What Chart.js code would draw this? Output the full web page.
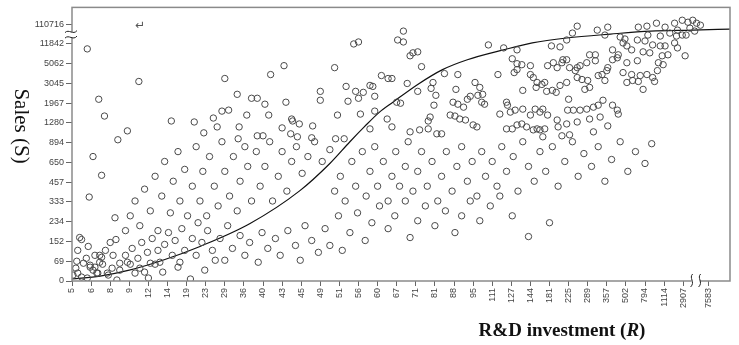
<!DOCTYPE html>
<html><head><meta charset="utf-8">
<script src="https://cdn.jsdelivr.net/npm/chart.js@4.4.1/dist/chart.umd.min.js"></script>
<style>html,body{margin:0;padding:0;background:#fff;}#wrap{width:739px;height:345px;position:relative;}</style>
</head><body><div id="wrap"><canvas id="c" width="739" height="345"></canvas></div>
<script>
// x axis: R&D investment (rank positions), y axis: Sales (rank positions)
const xTickLabels = ['5','6','8','9','12','14','19','23','29','36','40','43','45','49','51','56','60','67','71','81','88','95','111','127','144','181','225','289','357','502','794','1114','2907','7583'];
const xTickValues = [0,1,2,3,4,5,6,7,8,9,10,11,12,13,14,15,16,17,18,19,20,21,22,23,24,25,26,27,28,29,30,31,32,33.3];
const yTickLabels = ['0','69','152','234','333','457','650','894','1280','1967','3045','5062','11842','110716'];
const xMax = 34.45, yMax = 13.85;

// fitted curve (x rank, y rank)
const curveX = [0,1.47,3.0,4.75,6.7,9.3,11.9,13.5,14.55,15.3,16.1,16.8,18.1,19.4,20.7,22.6,24.1,25.9,28.2,30.3,32.5,34.45];
const curveY = [0.1,0.25,0.55,1.05,1.75,2.9,4.55,5.95,7.05,7.8,8.55,9.05,9.95,10.7,11.2,11.7,12.05,12.3,12.5,12.65,12.7,12.75];

// observations [x rank, y rank]
const observations = [
[0.8,11.75],[1.4,9.2],[1.7,8.35],[2.4,7.15],[2.9,7.6],[3.5,10.1],[5.2,8.1],[6.4,8.05],[6.9,7.5],[7.4,8.25],[7.6,7.8],[7.85,8.6],[8.2,8.65],[8.0,10.25],[8.65,9.45],[8.75,7.8],[8.7,7.2],[9.15,8.4],[9.4,9.25],[9.7,9.25],[9.7,7.35],[10.0,7.35],[10.1,8.95],[10.3,8.4],[10.4,10.45],[11.1,10.9],[11.2,9.05],[11.0,7.75],[11.5,8.2],[11.55,8.1],[11.9,7.95],[11.45,7.45],[11.8,7.3],[12.6,7.85],[12.55,7.25],[13.0,9.6],[13.0,9.15],[13.75,10.8],[13.9,8.4],[14.35,9.85],[14.45,9.1],[13.8,7.2],[14.25,7.2],[14.75,12.0],[15.0,12.1],[14.85,9.6],[15.0,9.25],[15.1,8.45],
[17.35,12.65],[17.05,12.2],[17.35,12.1],[17.7,11.4],[17.85,11.55],[18.1,11.6],[18.3,10.85],[15.25,9.55],[15.6,9.9],[15.75,9.85],[15.85,9.35],[16.2,10.4],[16.55,10.25],[16.75,10.25],[17.55,10.0],[18.1,9.6],[18.9,10.05],[18.8,9.75],[19.5,10.5],[20.2,10.45],[21.1,10.05],[21.35,9.8],[20.1,9.7],[19.05,9.4],[17.0,9.05],[17.2,9.0],[15.85,8.6],[16.5,8.2],[16.75,7.8],[15.6,7.7],[18.75,8.3],[18.65,8.1],[18.95,8.9],[19.95,9.05],[20.2,8.95],[20.7,9.2],[20.85,9.35],[21.25,9.4],[21.5,9.45],[21.45,9.05],[21.6,8.95],[19.8,8.4],[20.05,8.35],[20.3,8.2],[20.6,8.15],[20.5,8.8],[21.0,7.9],[21.2,7.8],[18.2,7.65],[18.65,7.7],[19.1,7.45],[19.35,7.45],[17.7,7.55],
[21.8,11.95],[22.6,11.8],[23.3,11.7],[26.45,12.9],[26.2,12.55],[25.9,12.2],[25.1,11.9],[25.55,11.85],[27.5,12.7],[28.05,12.85],[27.9,12.45],[28.7,12.35],[28.95,12.25],[29.65,12.85],[30.1,12.9],[30.6,13.05],[30.15,12.45],[31.55,13.05],[31.95,13.2],[32.25,13.1],[32.5,13.2],[32.7,13.05],[32.1,11.4],[32.35,12.8],[32.6,12.65],[32.9,12.95],[32.15,12.45],[31.7,12.7],[31.3,12.55],[31.05,12.85],[30.8,12.4],
[23.05,11.25],[23.3,11.0],[23.55,10.95],[24.0,10.9],[22.3,10.45],[23.15,10.55],[23.3,10.7],[24.0,10.45],[24.15,10.3],[24.35,10.05],[24.6,9.95],[24.75,10.05],[23.6,9.65],[24.3,9.8],[24.85,9.6],[25.15,9.65],[25.35,9.55],[25.55,9.9],[25.9,10.05],[24.9,10.9],[25.2,11.05],[25.4,10.8],[25.65,11.05],[25.7,11.2],[25.9,11.2],[26.05,10.8],[26.35,10.65],[26.45,10.8],[26.6,10.9],[26.95,11.05],[27.1,11.45],[27.4,11.45],[27.4,11.15],[26.45,10.3],[26.7,10.2],[27.0,10.15],[26.85,9.7],[27.1,9.8],[27.55,10.4],[27.75,10.45],[27.9,10.15],[28.0,10.65],[28.05,10.8],[28.3,11.2],[28.55,11.3],[29.05,10.05],[29.35,10.15],[29.65,10.1],[28.85,10.55],[29.3,10.45],[29.05,11.05],[29.6,11.15],[29.75,10.4],[30.1,10.45],[30.4,10.3],[29.9,9.7],[30.5,10.1],[29.9,11.6],[30.25,11.55],[30.9,11.4],[31.2,11.45],[30.7,11.05],[30.95,10.95],[30.65,10.65],[31.55,12.05],[31.7,11.8],[31.65,12.4],[31.95,12.45],[30.4,11.95],[30.8,11.9],[31.05,11.9],[29.6,12.2],[30.0,12.15],[29.3,11.7],[28.85,12.05],[29.05,11.9],[28.6,11.45],[28.3,11.7],
[22.75,9.05],[22.8,8.9],[22.4,8.45],[22.95,8.55],[23.2,8.65],[23.6,8.7],[24.0,8.4],[24.25,8.7],[24.5,8.55],[24.65,8.7],[24.9,8.4],[24.75,7.7],[24.5,7.65],[25.4,8.15],[25.95,8.65],[26.25,8.65],[26.6,8.65],[26.95,8.7],[27.1,8.2],[27.3,8.8],[27.55,8.9],[27.65,8.3],[27.8,9.15],[28.3,8.9],[28.55,8.65],[28.6,8.45],[28.05,7.85],[27.3,7.55],[26.45,8.05],[23.3,7.9],[23.55,7.95],[23.8,7.8],[23.05,7.7],[22.75,7.7],[24.15,7.65],[24.35,7.7],[24.65,7.3],[25.65,7.35],[26.05,7.4],[25.9,7.95],[25.45,7.8],[26.0,9.2],
[0.4,2.2],[0.5,2.1],[0.3,1.55],[0.85,1.75],[0.25,1.0],[1.1,6.3],[1.55,5.35],[0.9,4.25],[2.35,0.05],[2.25,3.2],[2.0,1.95],[2.3,2.1],[1.45,1.3],[1.55,1.2],[2.15,1.3],[1.45,0.95],[1.6,0.85],[0.95,0.7],[1.1,0.55],[1.3,0.4],[0.05,0.3],[0.3,0.4],[0.5,0.2],[0.8,0.15],[0.95,0.8],[1.2,0.7],[1.35,0.4],[1.85,0.4],[1.9,0.3],[2.1,0.65],[2.5,0.9],[2.9,0.95],[3.3,0.4],[3.8,0.45],[4.1,0.9],[4.35,0.85],[4.0,0.15],[4.75,0.45],[5.55,0.7],[6.2,0.1],[7.5,1.05],
[0.2,0.65],[0.6,0.9],[0.75,1.15],[1.2,1.3],[1.75,1.55],[2.5,0.55],[2.8,1.3],[3.05,0.85],[3.15,1.65],[3.45,1.15],[3.55,0.65],[3.65,1.95],[3.95,1.45],[4.2,2.15],[4.5,1.55],[4.6,0.95],[4.85,1.85],[5.05,2.45],[5.25,1.3],[5.4,2.05],[5.65,0.95],[5.75,2.65],[5.9,1.55],[6.3,2.15],[6.5,1.3],[6.6,2.95],[6.8,1.95],[6.95,0.55],[7.1,2.55],[7.35,1.55],[7.75,2.15],[8.0,1.05],[8.15,2.8],[8.4,1.65],[8.8,2.3],[9.05,1.3],[9.3,1.95],[9.75,0.95],[9.95,2.45],[10.25,1.65],[10.65,2.15],[10.9,1.3],[11.3,2.55],[11.7,1.8],[11.95,1.05],[12.2,2.8],[12.55,2.05],[12.9,1.45],[13.25,2.65],[13.5,1.8],[13.95,3.3],[14.15,1.55],[14.55,2.45],[14.95,3.45],[15.35,2.05],[15.7,2.95],[16.1,3.8],[16.55,2.65],[16.9,3.3],[17.45,4.05],[17.7,2.2],[18.1,3.05],[18.5,3.8],[19.0,2.8],[19.55,3.55],[20.05,2.45],[20.4,3.3],[20.85,4.05],[21.35,3.05],[21.9,3.8],[22.4,4.3],[23.05,3.3],[23.9,2.25],[25.0,2.95],
[2.8,2.55],[3.05,3.3],[3.3,4.05],[3.55,2.8],[3.8,4.65],[4.1,3.55],[4.35,5.3],[4.5,2.55],[4.7,4.3],[4.85,6.05],[5.15,3.45],[5.3,5.05],[5.55,6.55],[5.65,4.05],[5.9,5.65],[6.05,3.3],[6.3,4.8],[6.5,6.8],[6.7,4.05],[6.85,5.55],[7.05,3.3],[7.2,6.3],[7.45,4.8],[7.65,3.8],[7.85,7.05],[8.0,5.55],[8.25,4.3],[8.45,6.3],[8.65,3.55],[8.8,5.05],[9.05,6.8],[9.2,5.8],[9.4,4.05],[9.65,6.55],[9.85,4.8],[10.1,5.8],[10.35,7.05],[10.5,4.05],[10.8,5.3],[11.0,6.55],[11.25,4.55],[11.5,6.05],[11.75,6.8],[12.05,5.45],[12.35,6.3],[12.7,7.05],[13.1,6.05],[13.5,6.65],
[13.75,4.55],[14.05,5.3],[14.3,4.05],[14.65,6.05],[14.85,4.8],[15.2,6.55],[15.4,4.3],[15.6,5.55],[15.85,6.8],[16.0,4.8],[16.3,6.05],[16.55,4.05],[16.75,5.3],[16.95,6.55],[17.15,4.8],[17.45,5.8],[17.6,7.05],[17.85,4.55],[18.1,5.55],[18.3,6.55],[18.6,4.8],[18.85,6.05],[19.15,4.05],[19.35,5.3],[19.6,6.55],[19.9,4.55],[20.15,5.8],[20.4,6.8],[20.7,5.05],[20.95,6.05],[21.2,4.3],[21.45,6.55],[21.65,5.3],[22.0,6.05],[22.25,4.8],[22.5,6.8],[22.75,5.55],[23.1,6.3],[23.35,4.55],[23.6,7.05],[23.9,5.8],[24.2,5.05],[24.5,6.55],[24.8,5.55],[25.15,6.8],[25.45,4.8],[25.8,6.05],[26.2,7.05],[26.5,5.3],[26.8,6.45],[27.2,5.8],[27.55,6.8],[27.9,5.05],[28.25,6.15],[28.7,7.05],[29.1,5.55],[29.5,6.55],[30.0,5.95],[30.35,6.95]
];

const framePlugin = {
  id: 'frame',
  afterDraw(chart) {
    const {ctx, chartArea: a, scales} = chart;
    ctx.save();
    ctx.strokeStyle = '#8a8a8a';
    ctx.lineWidth = 1.5;
    ctx.strokeRect(a.left, a.top, a.right - a.left, a.bottom - a.top);
    // y-axis break
    const yb = scales.y.getPixelForValue(12.5);
    ctx.fillStyle = '#fff';
    ctx.fillRect(a.left - 2, yb - 2, 4, 5);
    ctx.strokeStyle = '#222';
    ctx.lineWidth = 1;
    for (const dy of [-2.5, 3]) {
      ctx.beginPath();
      ctx.moveTo(a.left - 7, yb + dy + 1);
      ctx.bezierCurveTo(a.left - 3, yb + dy - 3, a.left + 1, yb + dy + 4, a.left + 5, yb + dy - 1);
      ctx.stroke();
    }
    // x-axis break
    const xb = scales.x.getPixelForValue((xTickValues[32] + xTickValues[33]) / 2);
    ctx.fillStyle = '#fff';
    ctx.fillRect(xb - 4, a.bottom - 2, 8, 4);
    for (const dx of [-4, 4]) {
      ctx.beginPath();
      ctx.moveTo(xb + dx + 1, a.bottom - 7);
      ctx.bezierCurveTo(xb + dx - 3, a.bottom - 3, xb + dx + 4, a.bottom + 1, xb + dx - 1, a.bottom + 6);
      ctx.stroke();
    }
    // axis titles
    ctx.fillStyle = '#111';
    ctx.save();
    ctx.translate(21, 126);
    ctx.rotate(Math.PI / 2);
    ctx.font = '21px "Liberation Serif", "Times New Roman", serif';
    ctx.textAlign = 'center';
    ctx.textBaseline = 'middle';
    ctx.fillText('Sales (S)', 0, 0);
    ctx.restore();
    const p1 = 'R&D investment (', p2 = 'R', p3 = ')';
    const fb = 'bold 19px "Liberation Serif", "Times New Roman", serif';
    const fi = 'bold italic 19px "Liberation Serif", "Times New Roman", serif';
    ctx.font = fb; const w1 = ctx.measureText(p1).width, w3 = ctx.measureText(p3).width;
    ctx.font = fi; const w2 = ctx.measureText(p2).width;
    let x0 = 562 - (w1 + w2 + w3) / 2;
    const yT = 336;
    ctx.textAlign = 'left'; ctx.textBaseline = 'alphabetic';
    ctx.font = fb; ctx.fillText(p1, x0, yT);
    ctx.font = fi; ctx.fillText(p2, x0 + w1, yT);
    ctx.font = fb; ctx.fillText(p3, x0 + w1 + w2, yT);
    // stray return mark
    ctx.fillStyle = '#555';
    ctx.font = '12px "DejaVu Sans", sans-serif';
    ctx.textAlign = 'center';
    ctx.fillText('\u21B5', 140, 29);
    ctx.restore();
  }
};

const tickFont = {family: '"Liberation Sans", Arial, sans-serif', size: 9};
new Chart(document.getElementById('c'), {
  data: {
    datasets: [
      {type: 'scatter', data: observations.map(p => ({x: p[0], y: p[1]})),
       pointStyle: 'circle', pointRadius: 3.2, pointHoverRadius: 3.2, borderColor: '#4a4a4a', borderWidth: 1, backgroundColor: 'rgba(0,0,0,0)'},
      {type: 'line', data: curveX.map((x, i) => ({x, y: curveY[i]})),
       borderColor: '#111', borderWidth: 1.2, pointRadius: 0, fill: false, cubicInterpolationMode: 'monotone'}
    ]
  },
  options: {
    responsive: false, animation: false, devicePixelRatio: 1,
    layout: {padding: {top: 4, right: 9, left: 0, bottom: 0}},
    plugins: {legend: {display: false}, tooltip: {enabled: false}},
    scales: {
      x: {type: 'linear', min: 0, max: xMax,
        afterBuildTicks: s => { s.ticks = xTickValues.map(v => ({value: v})); },
        afterFit: s => { s.height = 64; },
        ticks: {autoSkip: false, maxRotation: 90, minRotation: 90, font: tickFont, color: '#444', padding: 2,
          callback: (v, i) => xTickLabels[i]},
        grid: {drawOnChartArea: false, drawTicks: true, tickLength: 5, color: '#666'},
        border: {display: false}
      },
      y: {type: 'linear', min: 0, max: yMax,
        afterBuildTicks: s => { s.ticks = yTickLabels.map((t, i) => ({value: i})); },
        afterFit: s => { s.width = 72; },
        ticks: {autoSkip: false, font: tickFont, color: '#444', padding: 2,
          callback: (v, i) => yTickLabels[i]},
        grid: {drawOnChartArea: false, drawTicks: true, tickLength: 6, color: '#666'},
        border: {display: false}
      }
    }
  },
  plugins: [framePlugin]
});
</script></body></html>
